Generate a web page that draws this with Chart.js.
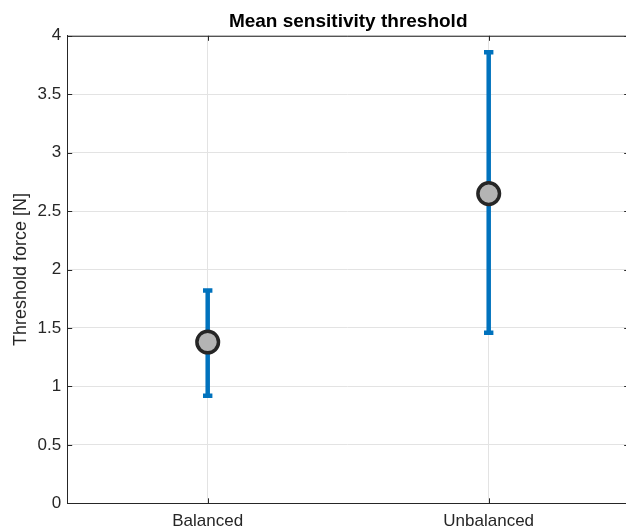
<!DOCTYPE html>
<html>
<head>
<meta charset="utf-8">
<script src="https://cdn.jsdelivr.net/npm/chart.js@4/dist/chart.umd.min.js"></script>
<style>
  html, body { margin: 0; padding: 0; background: #fff; overflow: hidden; }
  #wrap { width: 626px; height: 530px; }
</style>
</head>
<body>
<div id="wrap"><canvas id="chart" width="626" height="530"></canvas></div>
<script>
// data
const categories = ['Balanced', 'Unbalanced'];
const xPositions = [1, 2];
const means = [1.38, 2.65];
const lowerBounds = [0.92, 1.46];
const upperBounds = [1.82, 3.86];
const yTicks = [0, 0.5, 1, 1.5, 2, 2.5, 3, 3.5, 4];

const FONT = 'Liberation Sans, Arial, Helvetica, sans-serif';
const AXIS = '#262626';

// the matlab axes box runs a few px past the right window edge
const stretchBox = {
  id: 'stretchBox',
  afterLayout(chart) {
    const a = chart.chartArea;
    const x = chart.scales.x;
    a.right = 629.2;
    a.width = a.right - a.left;
    x.right = a.right;
    x.width = x.right - x.left;
    x.configure();
    // title centred over the axes, not the canvas
    if (chart.titleBlock) {
      chart.titleBlock.left = a.left;
      chart.titleBlock.right = a.right;
    }
  }
};

// error bars + matlab style box / inward ticks
const errorBars = {
  id: 'errorBars',
  beforeDatasetsDraw(chart) {
    const ctx = chart.ctx;
    const x = chart.scales.x, y = chart.scales.y;
    const a = chart.chartArea;
    ctx.save();
    // top box line
    ctx.strokeStyle = AXIS;
    ctx.lineWidth = 1;
    ctx.beginPath();
    ctx.moveTo(a.left, a.top + 0.5);
    ctx.lineTo(a.right, a.top + 0.5);
    ctx.stroke();
    // inward ticks
    ctx.beginPath();
    yTicks.forEach(v => {
      const py = Math.round(y.getPixelForValue(v)) + 0.5;
      ctx.moveTo(a.left, py); ctx.lineTo(a.left + 5, py);
      ctx.moveTo(a.right, py); ctx.lineTo(a.right - 5, py);
    });
    xPositions.forEach(v => {
      const px = Math.round(x.getPixelForValue(v)) + 0.5;
      ctx.moveTo(px, a.bottom); ctx.lineTo(px, a.bottom - 5);
      ctx.moveTo(px, a.top); ctx.lineTo(px, a.top + 5);
    });
    ctx.stroke();

    ctx.strokeStyle = '#0072BD';
    ctx.lineWidth = 4.5;
    ctx.lineCap = 'butt';
    xPositions.forEach((v, i) => {
      const px = x.getPixelForValue(v);
      const lo = y.getPixelForValue(lowerBounds[i]);
      const hi = y.getPixelForValue(upperBounds[i]);
      ctx.beginPath();
      ctx.moveTo(px, lo); ctx.lineTo(px, hi);
      ctx.stroke();
      ctx.beginPath();
      ctx.moveTo(px - 4.7, lo); ctx.lineTo(px + 4.7, lo);
      ctx.moveTo(px - 4.7, hi); ctx.lineTo(px + 4.7, hi);
      ctx.stroke();
    });
    ctx.restore();
  }
};

new Chart(document.getElementById('chart'), {
  type: 'scatter',
  data: {
    datasets: [{
      data: xPositions.map((v, i) => ({ x: v, y: means[i] })),
      pointRadius: 10.8,
      pointHoverRadius: 10.8,
      pointBackgroundColor: '#b4b4b4',
      pointBorderColor: AXIS,
      pointBorderWidth: 3.5
    }]
  },
  options: {
    responsive: false,
    animation: false,
    events: [],
    layout: { autoPadding: false, padding: 0 },
    plugins: {
      legend: { display: false },
      tooltip: { enabled: false },
      title: {
        display: true,
        text: 'Mean sensitivity threshold',
        color: '#000',
        font: { family: FONT, size: 19, weight: 'bold' },
        padding: { top: 10, bottom: 3 }
      }
    },
    scales: {
      x: {
        type: 'linear',
        min: 0.5,
        max: 2.5,
        afterBuildTicks: s => { s.ticks = xPositions.map(v => ({ value: v })); },
        afterFit: s => { s.height = 26.7; },
        ticks: {
          color: AXIS,
          font: { family: FONT, size: 17 },
          padding: 8,
          maxRotation: 0,
          callback: (v, i) => categories[i]
        },
        grid: { color: '#e3e3e3', lineWidth: 1, drawTicks: false },
        border: { display: true, color: AXIS, width: 1 }
      },
      y: {
        min: 0,
        max: 4,
        afterBuildTicks: s => { s.ticks = yTicks.map(v => ({ value: v })); },
        afterFit: s => { s.width = 67.2; },
        ticks: {
          color: AXIS,
          font: { family: FONT, size: 17 },
          padding: 6,
          callback: v => String(v)
        },
        grid: { color: '#e3e3e3', lineWidth: 1, drawTicks: false },
        border: { display: true, color: AXIS, width: 1 },
        title: {
          display: true,
          text: 'Threshold force [N]',
          color: AXIS,
          font: { family: FONT, size: 18 },
          padding: { top: 10, bottom: 0 }
        }
      }
    }
  },
  plugins: [stretchBox, errorBars]
});
</script>
</body>
</html>
